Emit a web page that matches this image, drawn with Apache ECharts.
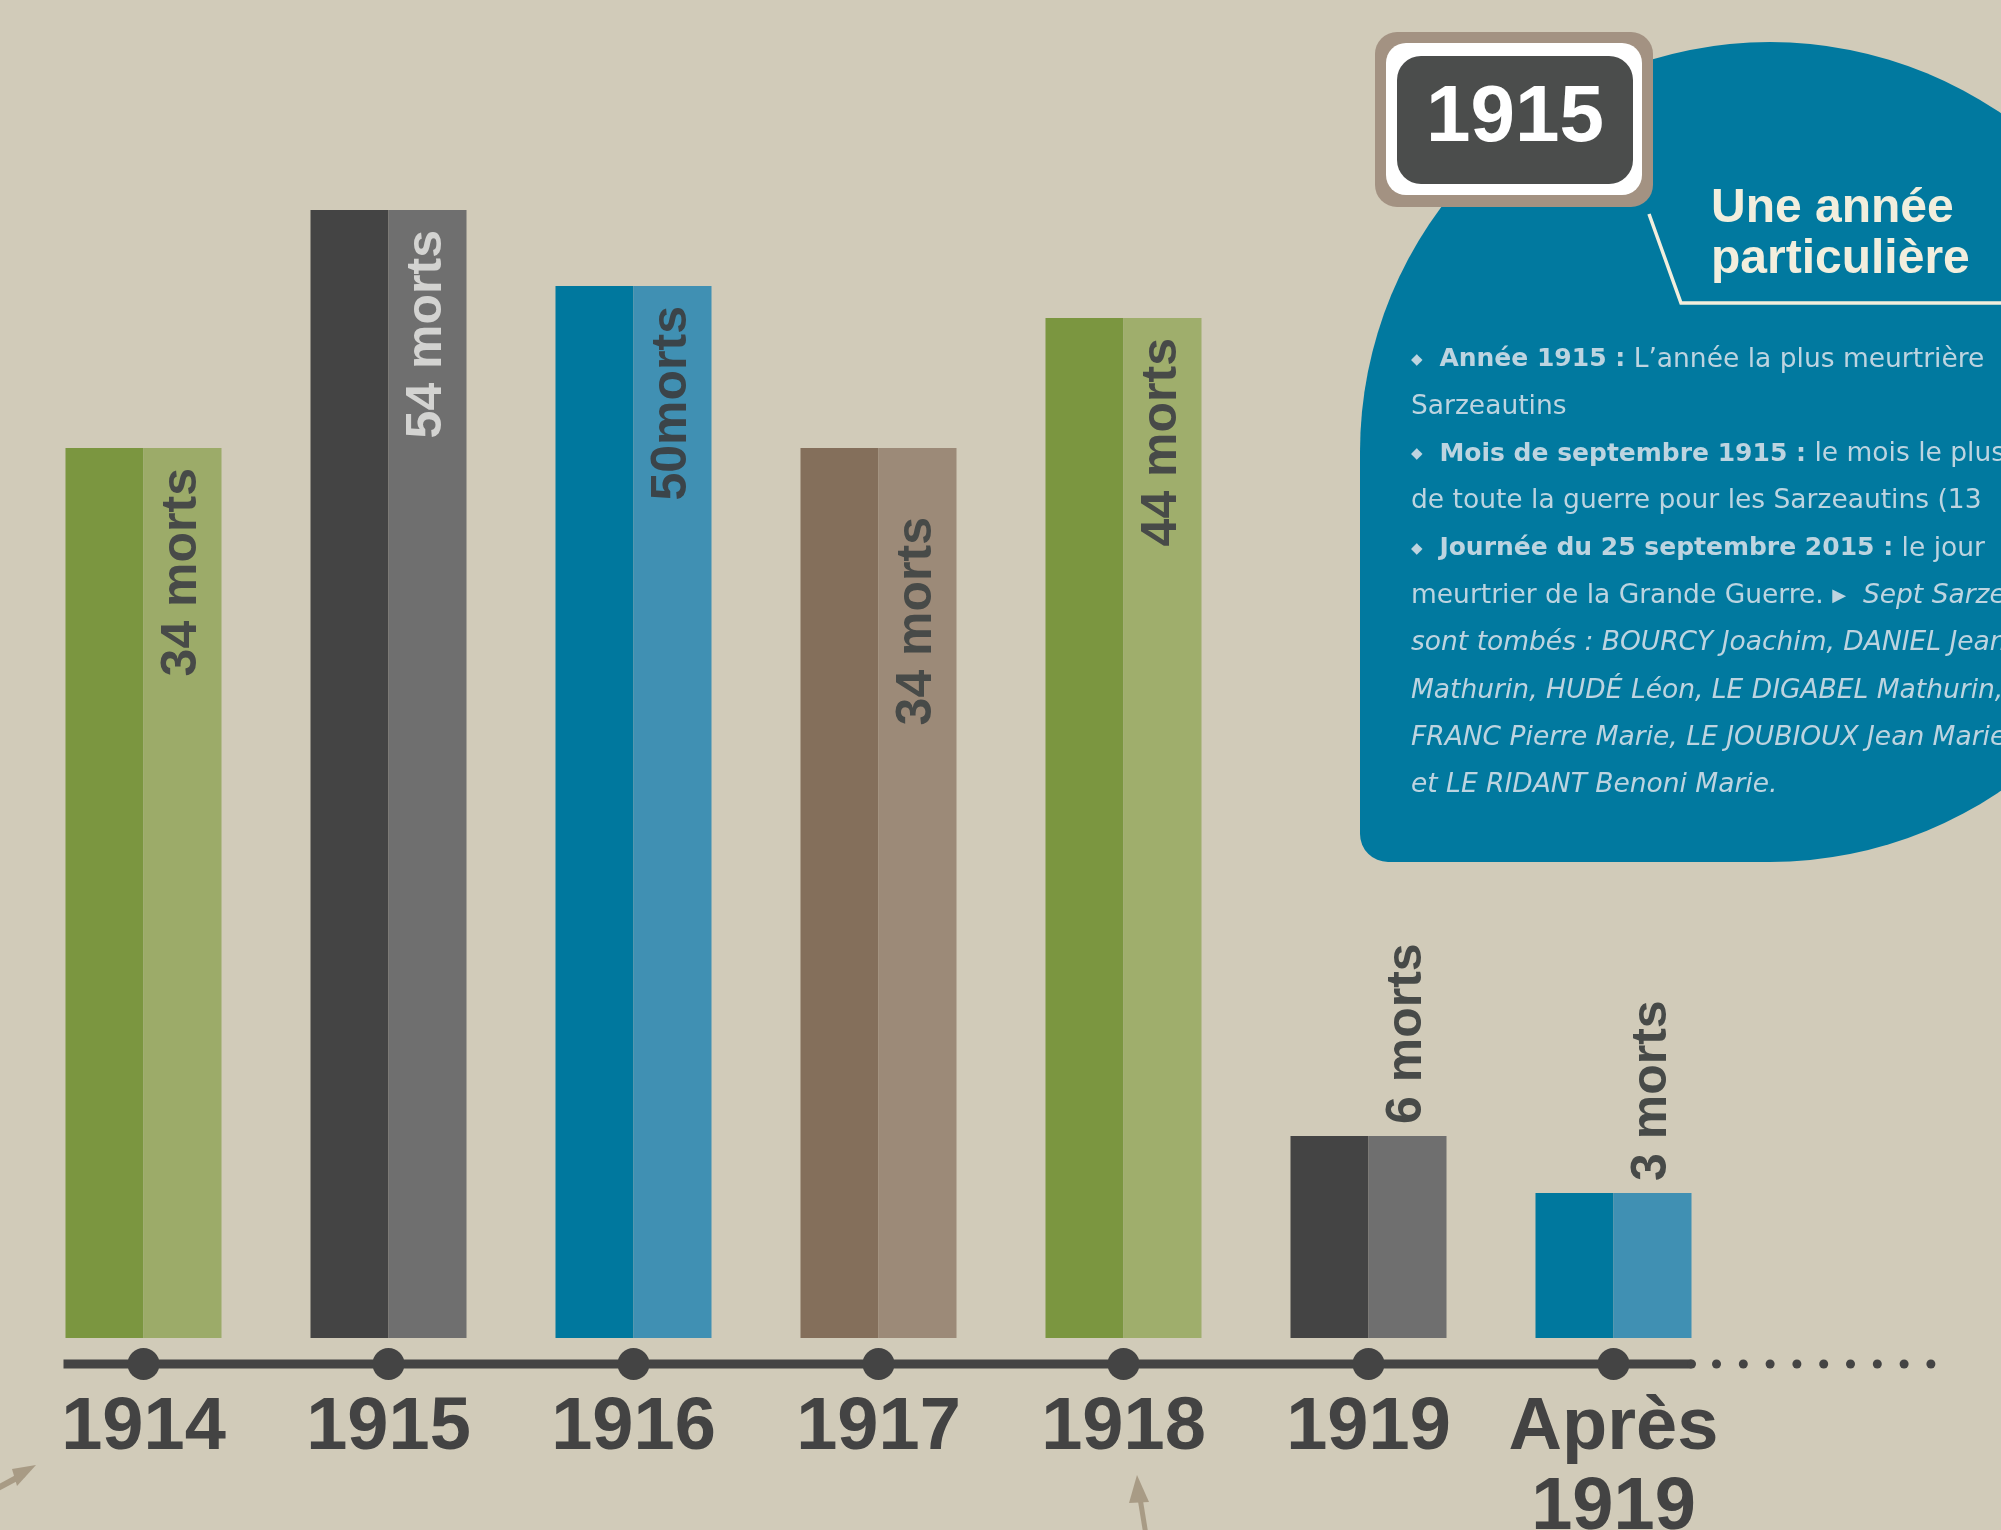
<!DOCTYPE html>
<html>
<head>
<meta charset="UTF-8">
<title>Sarzeau 1914-1919</title>
<script src="https://cdn.jsdelivr.net/npm/echarts@6/dist/echarts.min.js"></script>
<style>
  html, body { margin: 0; padding: 0; background: #d1cbb9; }
  #main { width: 2001px; height: 1530px; }
</style>
</head>
<body>
<div id="main"></div>
<script>
// categories on the timeline
var years = ['1914', '1915', '1916', '1917', '1918', '1919', 'Après\n1919'];
// the original draws the bars out of scale : these are the drawn heights (1 unit = 20px)
var barHeights = [44.5, 56.4, 52.6, 44.5, 51.0, 10.1, 7.25];
// text written on each bar
var barLabels = ['34 morts', '54 morts', '50morts', '34 morts', '44 morts', '6 morts', '3 morts'];

// right panel text
var bodyLines = [
  '{d|◆}  {b|Année 1915 :} L’année la plus meurtrière',
  'Sarzeautins',
  '{d|◆}  {b|Mois de septembre 1915 :} le mois le plus',
  'de toute la guerre pour les Sarzeautins (13',
  '{d|◆}  {b|Journée du 25 septembre 2015 :} le jour',
  'meurtrier de la Grande Guerre. {t|▶}  {i|Sept Sarzeautins}',
  '{i|sont tombés : BOURCY Joachim, DANIEL Jean}',
  '{i|Mathurin, HUDÉ Léon, LE DIGABEL Mathurin,}',
  '{i|FRANC Pierre Marie, LE JOUBIOUX Jean Marie}',
  '{i|et LE RIDANT Benoni Marie.}'
];

var darkColors  = ['#7b9640', '#444444', '#00789e', '#846f5b', '#7b9640', '#444444', '#00789e'];
var lightColors = ['#9cab69', '#6f6f6f', '#4090b3', '#9c8a78', '#9fae6c', '#6f6f6f', '#4090b3'];
var labelColors = ['#474a48', '#d3d3d1', '#3b4449', '#474a48', '#474a48', '#474a48', '#474a48'];

var myChart = echarts.init(document.getElementById('main'));

function barLabel(i) {
  var outside = barHeights[i] < 20;
  return {
    show: true,
    formatter: barLabels[i],
    rotate: 90,
    position: outside ? 'top' : 'insideTop',
    distance: outside ? 12 : (i === 3 ? 69 : 20),
    align: outside ? 'left' : 'right',
    verticalAlign: 'middle',
    color: labelColors[i],
    fontFamily: 'Liberation Sans',
    fontWeight: 'bold',
    fontSize: 50
  };
}

var option = {
  backgroundColor: '#d1cbb9',
  animation: false,
  grid: { left: 21, width: 1715, top: 138, bottom: 192, outerBoundsMode: 'none', containLabel: false },
  xAxis: {
    type: 'category',
    data: years,
    axisLine: { show: false },
    axisTick: { show: false },
    axisLabel: {
      interval: 0,
      margin: 51,
      color: '#434343',
      fontFamily: 'Liberation Sans',
      fontWeight: 'bold',
      fontSize: 74,
      lineHeight: 80
    }
  },
  yAxis: {
    type: 'value',
    min: 0,
    max: 60,
    show: false
  },
  series: [
    {
      name: 'dark',
      type: 'bar',
      barWidth: 78,
      barGap: '0%',
      data: barHeights.map(function (v, i) {
        return { value: v, itemStyle: { color: darkColors[i] } };
      })
    },
    {
      name: 'light',
      type: 'bar',
      barWidth: 78,
      barGap: '0%',
      data: barHeights.map(function (v, i) {
        return { value: v, itemStyle: { color: lightColors[i] }, label: barLabel(i) };
      })
    },
    {
      // timeline under the bars
      type: 'custom',
      clip: false,
      silent: true,
      data: years.map(function (y, i) { return [i, 0]; }),
      renderItem: function (params, api) {
        var i = api.value(0);
        var p = api.coord([i, 0]);
        var band = api.size([1, 0])[0];
        var y = p[1] + 26;
        var last = years.length - 1;
        var x0 = i === 0 ? p[0] - 80 : p[0] - band / 2;
        var x1 = i === last ? p[0] + 78 : p[0] + band / 2;
        var kids = [
          { type: 'rect', shape: { x: x0, y: y - 4.5, width: x1 - x0, height: 9 }, style: { fill: '#444444' } },
          { type: 'circle', shape: { cx: p[0], cy: y, r: 16 }, style: { fill: '#444444' } }
        ];
        if (i === last) {
          kids.push({ type: 'circle', shape: { cx: x1, cy: y, r: 4.5 }, style: { fill: '#444444' } });
          for (var k = 0; k < 9; k++) {
            kids.push({ type: 'circle', shape: { cx: x1 + 25 + k * 26.8, cy: y, r: 4.5 }, style: { fill: '#444444' } });
          }
        }
        return { type: 'group', children: kids };
      }
    }
  ],
  graphic: [
    // blue panel
    { type: 'circle', shape: { cx: 1770, cy: 452, r: 410 }, style: { fill: '#01799f' } },
    { type: 'rect', shape: { x: 1360, y: 452, width: 410, height: 410, r: [0, 0, 0, 28] }, style: { fill: '#01799f' } },
    // 1915 badge
    { type: 'rect', shape: { x: 1375, y: 32, width: 278, height: 175, r: 22 }, style: { fill: '#a39282' } },
    { type: 'rect', shape: { x: 1386, y: 43, width: 256, height: 152, r: 20 }, style: { fill: '#ffffff' } },
    { type: 'rect', shape: { x: 1397, y: 56, width: 236, height: 128, r: 24 }, style: { fill: '#4b4d4c' } },
    {
      type: 'text', x: 1515, y: 119,
      style: { text: '1915', fill: '#ffffff', font: 'bold 80px "Liberation Sans"', textAlign: 'center', textVerticalAlign: 'middle' }
    },
    // title
    {
      type: 'text', x: 1711, y: 209,
      style: { text: 'Une année', fill: '#f2eedd', font: 'bold 48px "Liberation Sans"', textVerticalAlign: 'middle' }
    },
    {
      type: 'text', x: 1711, y: 260,
      style: { text: 'particulière', fill: '#f2eedd', font: 'bold 48px "Liberation Sans"', textVerticalAlign: 'middle' }
    },
    {
      type: 'polyline',
      shape: { points: [[1649, 214], [1681, 303], [2010, 303]] },
      style: { stroke: '#f2eedd', lineWidth: 3.5, fill: null }
    },
    // body text
    {
      type: 'text', x: 1411, y: 336,
      style: {
        text: bodyLines.join('\n'),
        fill: '#bdd4e0',
        font: '26.5px "DejaVu Sans"',
        lineHeight: 47.3,
        textVerticalAlign: 'top',
        rich: {
          d: { fontSize: 15, fontFamily: 'DejaVu Sans', fill: '#bdd4e0', lineHeight: 47.3 },
          b: { fontSize: 25, fontFamily: 'DejaVu Sans', fontWeight: 'bold', fill: '#bdd4e0', lineHeight: 47.3 },
          t: { fontSize: 18, fontFamily: 'DejaVu Sans', fill: '#bdd4e0', lineHeight: 47.3 },
          i: { fontSize: 26.5, fontFamily: 'DejaVu Sans', fontStyle: 'italic', fill: '#bdd4e0', lineHeight: 47.3 }
        }
      }
    },
    // arrows
    {
      type: 'polyline', shape: { points: [[-4, 1489], [24, 1474]] },
      style: { stroke: '#a89b85', lineWidth: 6, fill: null }
    },
    { type: 'polygon', shape: { points: [[36, 1465], [12, 1469], [17, 1486]] }, style: { fill: '#a89b85' } },
    {
      type: 'polyline', shape: { points: [[1140, 1498], [1146, 1535]] },
      style: { stroke: '#a89b85', lineWidth: 5, fill: null }
    },
    { type: 'polygon', shape: { points: [[1137, 1475], [1129, 1503], [1149, 1502]] }, style: { fill: '#a89b85' } }
  ]
};
myChart.setOption(option);
</script>
</body>
</html>
